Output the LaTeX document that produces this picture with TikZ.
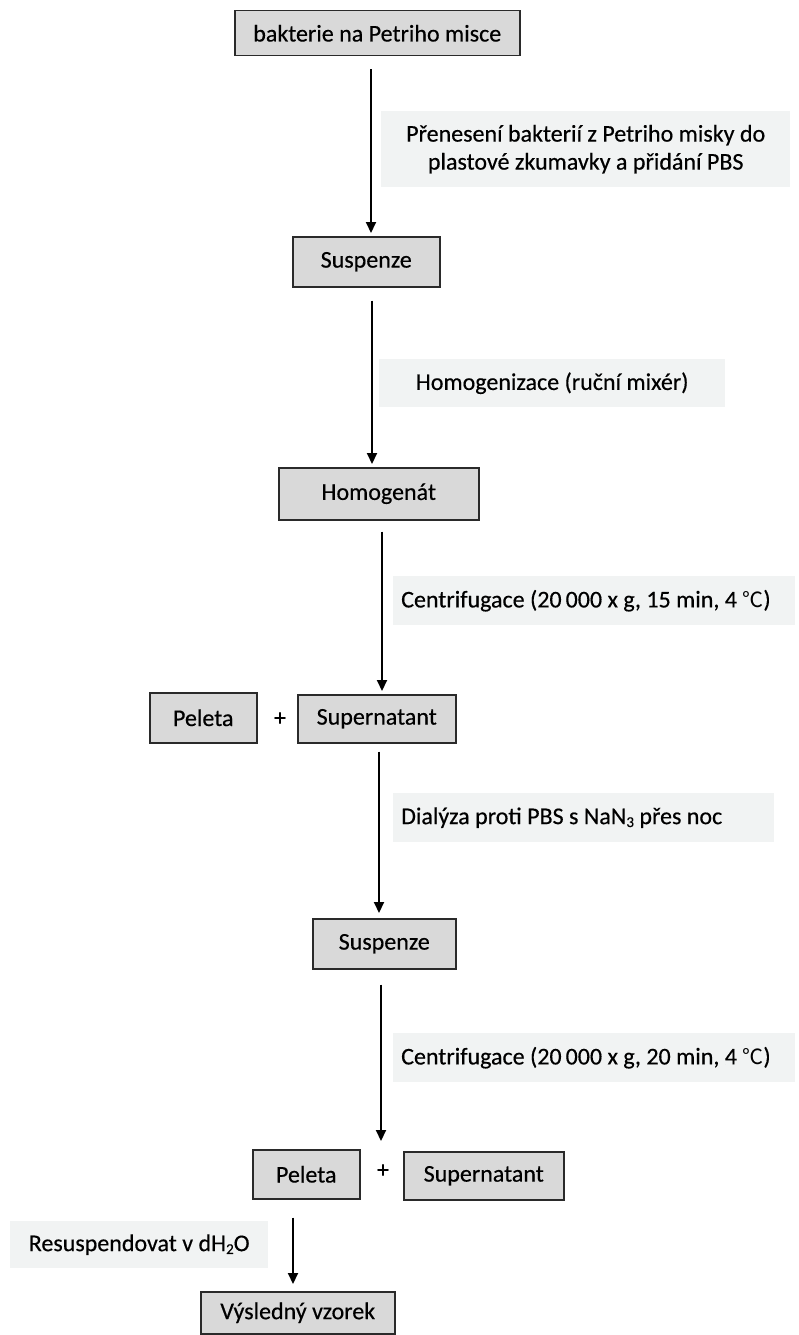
\documentclass[tikz,border=0pt]{standalone}
\usepackage{fontspec}
\setmainfont{Carlito}[FakeBold=0.4]
\newfontfamily\cjkf{Noto Sans CJK SC}
\usetikzlibrary{arrows.meta,calc}
\definecolor{boxfill}{HTML}{D9D9D9}
\definecolor{boxline}{HTML}{2A2A2A}
\definecolor{labfill}{HTML}{F1F3F3}
\newcommand{\mysub}[1]{\raisebox{-0.12em}{\fontsize{15}{15}\selectfont #1}}
\newcommand{\degc}{{\cjkf\fontsize{21}{22}\selectfont ℃}}
\begin{document}
\begin{tikzpicture}[x=1pt,y=-1pt,
  every node/.style={font=\fontsize{24}{28}\selectfont, inner sep=0pt, text=black},
  stepbox/.style={draw=boxline, line width=1.5pt, fill=boxfill, anchor=north west},
  lab/.style={fill=labfill, anchor=north west},
  arr/.style={line width=2pt, -{Triangle[width=10pt,length=11pt]}}]
\useasboundingbox (0,0) rectangle (799,1335);
% boxes
\node[stepbox, minimum width=285pt, minimum height=45pt] (b1) at (234,10) {bakterie na Petriho misce};
\node[stepbox, minimum width=147pt, minimum height=50pt] (s1) at (292,236) {Suspenze};
\node[stepbox, minimum width=200pt, minimum height=52pt] (h) at (278,467) {Homogenát};
\node[stepbox, minimum width=107pt, minimum height=50pt] (p1) at (149,692) {Peleta};
\node (plus1) at (280,719) {+};
\node[stepbox, minimum width=158pt, minimum height=48pt] (su1) at (297,694) {Supernatant};
\node[stepbox, minimum width=143pt, minimum height=50pt] (s2) at (312,918) {Suspenze};
\node[stepbox, minimum width=107pt, minimum height=49pt] (p2) at (252,1149) {Peleta};
\node (plus2) at (383,1171) {+};
\node[stepbox, minimum width=160pt, minimum height=48pt] (su2) at (403,1151) {Supernatant};
\node[stepbox, minimum width=194pt, minimum height=42pt] (v) at (200,1291) {Výsledný vzorek};
% labels
\node[lab, minimum width=409pt, minimum height=76pt, align=center] (l1) at (381,111)
  {Přenesení bakterií z Petriho misky do\\plastové zkumavky a přidání PBS};
\node[lab, minimum width=346pt, minimum height=48pt] (l2) at (379,359) {Homogenizace (ruční mixér)};
\node[lab, minimum width=402pt, minimum height=49pt, text width=386pt, align=flush left] (l3) at (393,576)
  {Centrifugace (20\,000 x g, 15 min, 4 \degc)};
\node[lab, minimum width=381pt, minimum height=49pt, text width=365pt, align=flush left] (l4) at (393,793)
  {Dialýza proti PBS s NaN\mysub{3} přes noc};
\node[lab, minimum width=402pt, minimum height=49pt, text width=386pt, align=flush left] (l5) at (393,1033)
  {Centrifugace (20\,000 x g, 20 min, 4 \degc)};
\node[lab, minimum width=258pt, minimum height=47pt] (l6) at (10,1221) {Resuspendovat v dH\mysub{2}O};
% arrows
\draw[arr] ($(371,0 |- b1.south)+(0,13)$) -- ($(371,0 |- s1.north)+(0,-3)$);
\draw[arr] ($(372,0 |- s1.south)+(0,13)$) -- ($(372,0 |- h.north)+(0,-3)$);
\draw[arr] ($(382,0 |- h.south)+(0,11)$) -- ($(382,0 |- su1.north)+(0,-3)$);
\draw[arr] ($(379,0 |- su1.south)+(0,8)$) -- ($(379,0 |- s2.north)+(0,-5)$);
\draw[arr] ($(381,0 |- s2.south)+(0,15)$) -- ($(381,0 |- p2.north)+(0,-8)$);
\draw[arr] ($(293,0 |- p2.south)+(0,18)$) -- ($(293,0 |- v.north)+(0,-7)$);
\end{tikzpicture}
\end{document}
